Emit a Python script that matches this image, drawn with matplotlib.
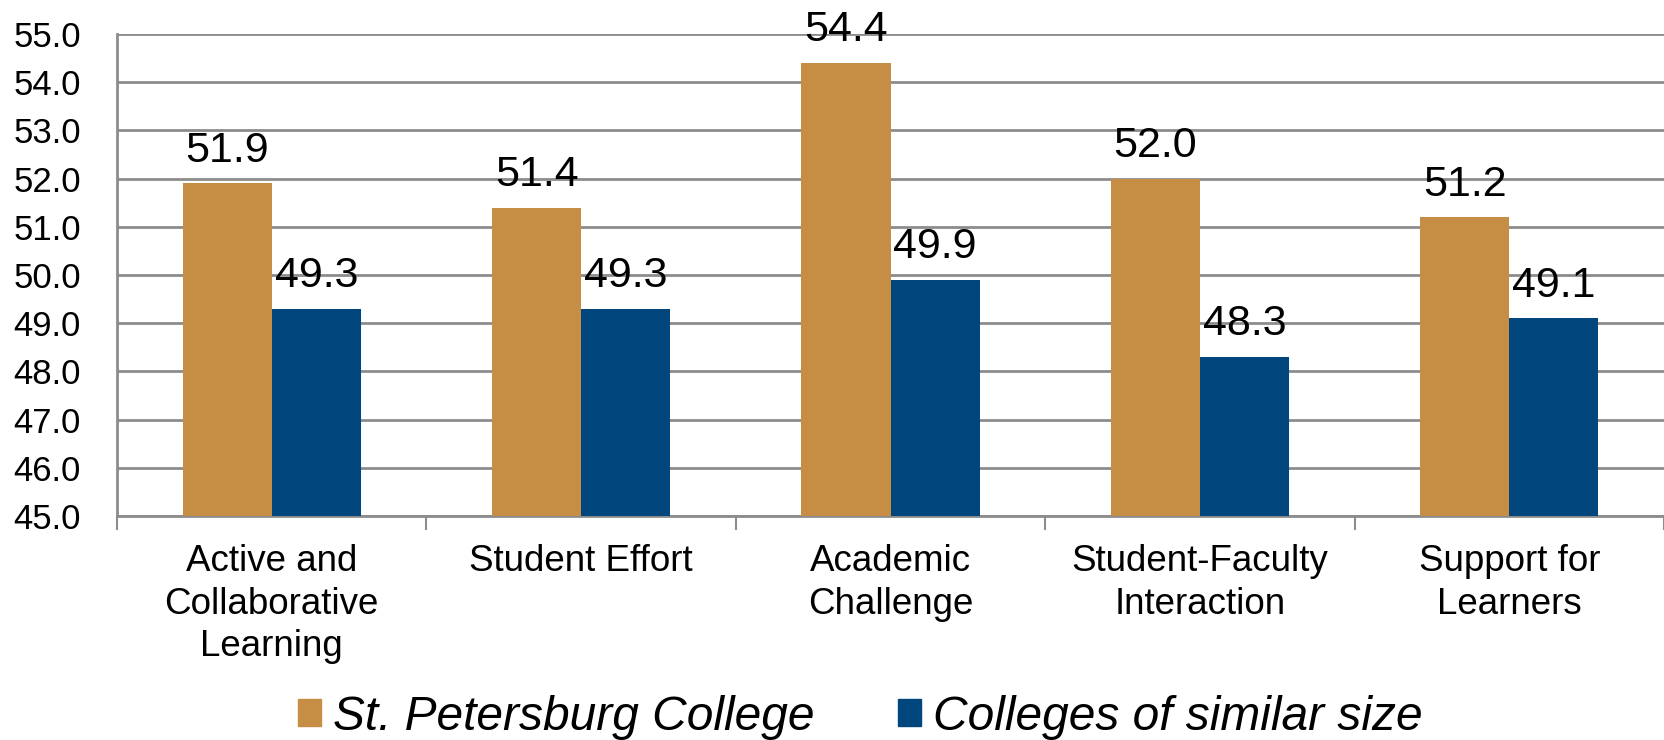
import matplotlib
matplotlib.use("Agg")
import matplotlib.pyplot as plt
import numpy as np

categories = ["Active and\nCollaborative\nLearning", "Student Effort", "Academic\nChallenge",
              "Student-Faculty\nInteraction", "Support for\nLearners"]
spc = [51.9, 51.4, 54.4, 52.0, 51.2]
similar = [49.3, 49.3, 49.9, 48.3, 49.1]
series_names = ["St. Petersburg College", "Colleges of similar size"]
yticks = [45.0, 46.0, 47.0, 48.0, 49.0, 50.0, 51.0, 52.0, 53.0, 54.0, 55.0]

plt.rcParams["font.family"] = ["Liberation Sans", "DejaVu Sans"]

orange = "#C68D44"
blue = "#00457B"
grid_c = "#8C8C8C"

fig = plt.figure(figsize=(16.64, 7.40), dpi=100)
ax = fig.add_axes([117 / 1664, 1 - 516 / 740, 1 - 117 / 1664, (516 - 34) / 740])

x = np.arange(len(categories))
w = 0.288
b1 = ax.bar(x - w / 2, spc, w, color=orange, zorder=3)
b2 = ax.bar(x + w / 2, similar, w, color=blue, zorder=3)

ax.set_ylim(45, 55)
ax.set_xlim(-0.5, len(categories) - 0.5)
ax.set_yticks(yticks)
ax.set_yticklabels([f"{v:.1f}" for v in yticks], fontsize=25)
ax.yaxis.grid(True, color=grid_c, linewidth=2, zorder=0)
ax.set_axisbelow(True)

for s in ["top", "right"]:
    ax.spines[s].set_visible(False)
for s in ["left", "bottom"]:
    ax.spines[s].set_color(grid_c)
    ax.spines[s].set_linewidth(2)

ax.tick_params(axis="y", length=0, pad=26)
ax.set_xticks(x)
ax.set_xticklabels(categories, fontsize=26.5, linespacing=1.29)
ax.tick_params(axis="x", length=0, pad=20)
ax.set_xticks(np.arange(-0.5, len(categories)), minor=True)
ax.tick_params(axis="x", which="minor", length=10, width=1.5, color=grid_c)

for bars, vals in ((b1, spc), (b2, similar)):
    for rect, v in zip(bars, vals):
        ax.annotate(f"{v:.1f}", (rect.get_x() + rect.get_width() / 2, v),
                    xytext=(0, 9), textcoords="offset points",
                    ha="center", va="bottom", fontsize=31, clip_on=False)

handles = [plt.Rectangle((0, 0), 1, 1, color=orange), plt.Rectangle((0, 0), 1, 1, color=blue)]
fig.legend(handles, series_names, loc="center", bbox_to_anchor=(0.517, 1 - 717 / 740),
           ncol=2, frameon=False, prop={"size": 34.5, "style": "italic"},
           handlelength=0.47, handleheight=0.47, handletextpad=0.25, columnspacing=1.75)

fig.savefig("out.png", dpi=100)
